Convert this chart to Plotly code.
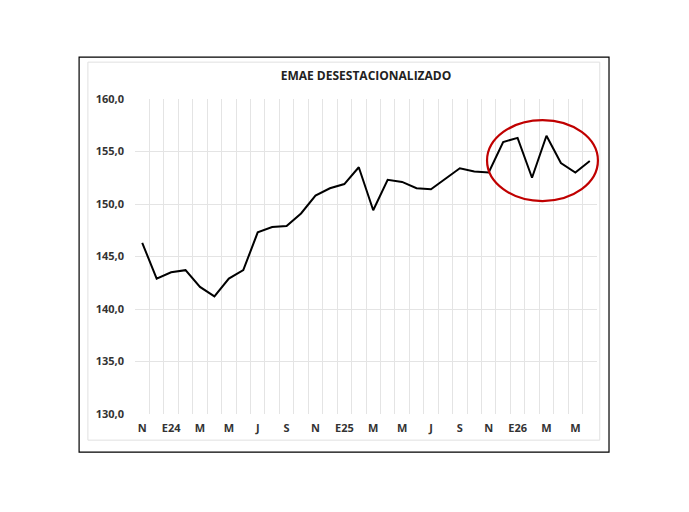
import plotly.graph_objects as go

# EMAE desestacionalizado, Nov-23 .. Jun-26
valores = [146.3, 142.9, 143.5, 143.7, 142.1, 141.2, 142.9, 143.7, 147.3, 147.8,
           147.9, 149.1, 150.8, 151.5, 151.9, 153.5, 149.4, 152.3, 152.1, 151.5,
           151.4, 152.4, 153.4, 153.1, 153.0, 155.9, 156.3, 152.5, 156.5, 153.9,
           153.0, 154.1]
etiquetas = ["N", "E24", "M", "M", "J", "S", "N", "E25", "M", "M", "J", "S",
             "N", "E26", "M", "M"]
y_ticks = [130, 135, 140, 145, 150, 155, 160]

x = list(range(len(valores)))

fig = go.Figure()
fig.add_trace(go.Scatter(x=x, y=valores, mode="lines",
                         line=dict(color="black", width=2), hoverinfo="skip"))

fig.update_layout(
    width=689, height=512,
    margin=dict(l=127, r=100, t=91, b=106),
    paper_bgcolor="white", plot_bgcolor="white",
    showlegend=False,
    font=dict(family="Open Sans", color="#404040", size=11),
    title=dict(text="<b>EMAE DESESTACIONALIZADO</b>", x=0.5, xref="paper",
               y=1 - 68 / 512, yanchor="middle", font=dict(size=12, color="#222")),
    xaxis=dict(range=[-0.5, len(valores) - 0.5],
               tickvals=list(range(0, len(valores), 2)),
               ticktext=[f"<b>{t}</b>" for t in etiquetas],
               showgrid=False, zeroline=False, ticks="", ticklabelstandoff=6,
               tickfont=dict(size=11, color="#333", family="Open Sans"),
               minor=dict(tick0=-0.5, dtick=1, showgrid=True, gridcolor="#e4e4e4", ticks=""),
               showline=False),
    yaxis=dict(range=[130, 160], tickvals=y_ticks,
               ticktext=["<b>" + f"{v:.1f}".replace(".", ",") + "</b>" for v in y_ticks],
               showgrid=True, gridcolor="#e4e4e4", zeroline=False, ticks="",
               ticklabelstandoff=10,
               tickfont=dict(size=11, color="#333", family="Open Sans")),
    shapes=[
        dict(type="rect", xref="paper", yref="paper", x0=-0.121, x1=1.026,
             y0=-0.121, y1=1.133, line=dict(color="black", width=1.2)),
        dict(type="rect", xref="paper", yref="paper", x0=-0.102, x1=1.006,
             y0=-0.083, y1=1.117, line=dict(color="#e0e0e0", width=1)),
        dict(type="circle", xref="paper", yref="paper", x0=0.762, x1=1.002,
             y0=0.676, y1=0.933, line=dict(color="#c00000", width=2.2)),
    ],
)

fig.write_html("out.html")
